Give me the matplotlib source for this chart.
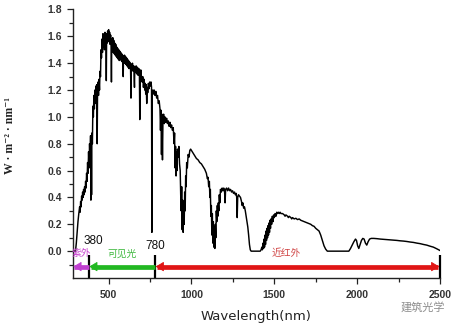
import matplotlib
matplotlib.use("Agg")
import matplotlib.pyplot as plt

# Solar spectral irradiance (W·m^-2·nm^-1) versus wavelength (nm)
wavelength_nm = [
    295, 300, 305, 310, 315, 320, 325, 328, 331, 334, 337, 340, 343, 346, 349, 352,
    355, 358, 361, 364, 367, 370, 373, 376, 379, 382, 385, 388, 391, 393, 395, 397,
    399, 402, 405, 408, 411, 414, 417, 420, 423, 426, 429, 431, 433, 436, 439, 442,
    445, 448, 451, 454, 457, 460, 463, 466, 469, 472, 475, 478, 481, 484, 486, 488,
    491, 494, 497, 500, 503, 506, 509, 512, 515, 517, 519, 522, 525, 528, 531, 534,
    537, 540, 543, 546, 549, 552, 555, 558, 561, 564, 567, 570, 573, 576, 579, 582,
    585, 588, 590, 593, 596, 599, 602, 605, 608, 611, 614, 617, 620, 623, 626, 629,
    632, 635, 637, 640, 644, 648, 652, 656, 658, 662, 666, 670, 674, 678, 682, 686,
    688, 690, 694, 698, 702, 706, 710, 714, 718, 721, 724, 727, 730, 733, 736, 740,
    744, 748, 752, 756, 759, 761, 763, 767, 771, 775, 780, 785, 790, 795, 800, 805,
    810, 813, 816, 819, 822, 825, 828, 832, 836, 840, 845, 850, 855, 860, 865, 870,
    875, 880, 885, 890, 895, 898, 901, 904, 907, 910, 913, 916, 920, 924, 928, 932,
    935, 938, 941, 944, 947, 950, 953, 956, 959, 962, 965, 968, 971, 975, 980, 985,
    990, 995, 1000, 1005, 1010, 1015, 1020, 1030, 1040, 1050, 1060, 1070, 1080, 1090, 1096, 1100,
    1104, 1108, 1111, 1114, 1117, 1120, 1123, 1126, 1129, 1132, 1135, 1138, 1141, 1144, 1147, 1150,
    1153, 1156, 1159, 1162, 1165, 1168, 1171, 1175, 1180, 1185, 1190, 1195, 1200, 1203, 1206, 1212,
    1218, 1224, 1230, 1236, 1242, 1248, 1254, 1260, 1265, 1270, 1273, 1276, 1279, 1284, 1290, 1296,
    1302, 1306, 1310, 1315, 1320, 1325, 1330, 1335, 1340, 1345, 1350, 1355, 1360, 1415, 1420, 1425,
    1428, 1432, 1435, 1438, 1441, 1444, 1447, 1450, 1453, 1456, 1459, 1462, 1465, 1468, 1471, 1474,
    1477, 1480, 1484, 1488, 1492, 1496, 1500, 1505, 1510, 1515, 1520, 1525, 1530, 1535, 1540, 1550,
    1560, 1565, 1570, 1580, 1585, 1590, 1600, 1605, 1610, 1620, 1630, 1640, 1650, 1660, 1670, 1680,
    1690, 1700, 1710, 1720, 1730, 1740, 1750, 1760, 1770, 1780, 1790, 1800, 1810, 1820, 1950, 1960,
    1970, 1980, 1990, 1996, 2003, 2010, 2018, 2026, 2034, 2042, 2050, 2058, 2066, 2075, 2085, 2100,
    2120, 2140, 2160, 2180, 2200, 2220, 2240, 2260, 2280, 2300, 2320, 2340, 2360, 2380, 2400, 2420,
    2440, 2460, 2480, 2495, 2500,
]
irradiance = [
    0.00, 0.00, 0.06, 0.14, 0.22, 0.28, 0.33, 0.29, 0.37, 0.33, 0.41, 0.38, 0.44, 0.40, 0.46, 0.42,
    0.48, 0.44, 0.52, 0.47, 0.58, 0.52, 0.66, 0.58, 0.74, 0.62, 0.80, 0.68, 0.86, 0.38, 0.82, 0.42,
    0.88, 0.80, 1.08, 1.00, 1.16, 1.06, 1.20, 1.10, 1.23, 1.12, 1.24, 0.80, 1.18, 1.26, 1.16, 1.28,
    1.20, 1.34, 1.30, 1.50, 1.44, 1.58, 1.48, 1.62, 1.52, 1.60, 1.50, 1.63, 1.54, 1.60, 1.27, 1.62,
    1.55, 1.64, 1.56, 1.65, 1.57, 1.63, 1.54, 1.61, 1.52, 1.26, 1.58, 1.50, 1.59, 1.48, 1.57, 1.47,
    1.55, 1.46, 1.54, 1.45, 1.52, 1.44, 1.51, 1.43, 1.50, 1.42, 1.49, 1.43, 1.48, 1.42, 1.47, 1.41,
    1.46, 1.30, 1.45, 1.40, 1.46, 1.40, 1.45, 1.39, 1.44, 1.38, 1.43, 1.37, 1.42, 1.36, 1.41, 1.36,
    1.40, 1.14, 1.39, 1.35, 1.40, 1.34, 1.38, 1.22, 1.37, 1.33, 1.38, 1.32, 1.37, 1.31, 1.36, 1.30,
    0.98, 1.28, 1.35, 1.30, 1.26, 1.30, 1.22, 1.28, 1.20, 1.25, 1.17, 1.24, 1.10, 1.22, 1.18, 1.25,
    1.21, 1.26, 1.23, 1.26, 1.22, 0.14, 1.18, 1.20, 1.17, 1.20, 1.16, 1.19, 1.14, 1.16, 1.10, 1.12,
    1.06, 0.90, 1.05, 0.72, 1.02, 0.68, 0.98, 1.02, 0.95, 1.00, 0.96, 0.99, 0.95, 0.97, 0.93, 0.96,
    0.92, 0.94, 0.90, 0.92, 0.80, 0.88, 0.62, 0.78, 0.56, 0.74, 0.60, 0.76, 0.70, 0.78, 0.65, 0.60,
    0.42, 0.30, 0.48, 0.16, 0.38, 0.14, 0.32, 0.20, 0.44, 0.30, 0.56, 0.48, 0.66, 0.62, 0.72, 0.70,
    0.75, 0.76, 0.75, 0.74, 0.73, 0.72, 0.71, 0.69, 0.68, 0.66, 0.65, 0.63, 0.61, 0.58, 0.54, 0.55,
    0.48, 0.52, 0.40, 0.46, 0.26, 0.34, 0.12, 0.28, 0.06, 0.22, 0.03, 0.18, 0.02, 0.20, 0.10, 0.30,
    0.22, 0.34, 0.26, 0.36, 0.30, 0.42, 0.36, 0.46, 0.44, 0.47, 0.45, 0.47, 0.44, 0.36, 0.46, 0.47,
    0.45, 0.47, 0.45, 0.46, 0.44, 0.45, 0.43, 0.44, 0.42, 0.43, 0.40, 0.25, 0.40, 0.42, 0.41, 0.40,
    0.37, 0.34, 0.36, 0.32, 0.33, 0.30, 0.26, 0.22, 0.18, 0.12, 0.05, 0.01, 0.00, 0.00, 0.01, 0.03,
    0.01, 0.06, 0.02, 0.09, 0.03, 0.12, 0.05, 0.15, 0.08, 0.17, 0.10, 0.19, 0.12, 0.21, 0.14, 0.23,
    0.17, 0.24, 0.20, 0.26, 0.22, 0.27, 0.25, 0.28, 0.26, 0.29, 0.28, 0.29, 0.28, 0.29, 0.28, 0.28,
    0.27, 0.26, 0.27, 0.26, 0.25, 0.26, 0.25, 0.24, 0.25, 0.24, 0.245, 0.235, 0.24, 0.23, 0.225, 0.22,
    0.215, 0.21, 0.205, 0.20, 0.19, 0.185, 0.17, 0.16, 0.15, 0.12, 0.08, 0.04, 0.015, 0.00, 0.00, 0.02,
    0.045, 0.07, 0.09, 0.08, 0.04, 0.02, 0.05, 0.08, 0.095, 0.09, 0.06, 0.045, 0.07, 0.09, 0.095, 0.095,
    0.093, 0.09, 0.088, 0.086, 0.084, 0.082, 0.08, 0.077, 0.075, 0.072, 0.068, 0.065, 0.06, 0.056, 0.05, 0.045,
    0.037, 0.03, 0.018, 0.008, 0.005,
]

# Spectral band boundaries (nm) and band names
band_edges = [380, 780, 2500]
band_names = ["紫外", "可见光", "近红外"]
band_text_colors = ["#c83fcf", "#3cb83c", "#d04545"]
band_arrow_colors = ["#c040d0", "#22b822", "#e01515"]

x_ticks = [500, 1000, 1500, 2000, 2500]
y_ticks = [0.0, 0.2, 0.4, 0.6, 0.8, 1.0, 1.2, 1.4, 1.6, 1.8]

cjk = ["Noto Sans CJK SC", "DejaVu Sans"]

fig = plt.figure(figsize=(4.6, 3.28), dpi=100)
ax = fig.add_axes([0.1587, 0.1524, 0.7978, 0.8187])

ax.plot(wavelength_nm, irradiance, color="black", lw=1.05)

ax.set_xlim(285, 2500)
ax.set_ylim(-0.2, 1.8)

for side in ("top", "right"):
    ax.spines[side].set_visible(False)
for side in ("left", "bottom"):
    ax.spines[side].set_linewidth(1.0)
    ax.spines[side].set_color("#222222")

ax.set_xticks(x_ticks)
ax.set_xticks([750, 1250, 1750, 2250], minor=True)
ax.set_yticks(y_ticks)
ax.set_yticks([0.1, 0.3, 0.5, 0.7, 0.9, 1.1, 1.3, 1.5, 1.7, -0.1], minor=True)
ax.set_yticklabels([f"{v:.1f}" for v in y_ticks])
ax.tick_params(axis="both", which="both", direction="out", color="#222222", width=0.9)
ax.tick_params(axis="both", which="major", length=4.5,
               labelsize=7.5, labelcolor="#333333")
ax.tick_params(axis="both", which="minor", length=3)
ax.tick_params(axis="x", which="major", pad=4)
for lab in ax.get_xticklabels() + ax.get_yticklabels():
    lab.set_fontfamily("Liberation Sans")
    lab.set_fontweight("bold")

ax.set_xlabel("Wavelength(nm)", fontsize=9.5, color="#222222", labelpad=7,
              family="DejaVu Sans")
ax.set_ylabel("W · m⁻² · nm⁻¹", fontsize=8.5, color="#222222",
              family=["Liberation Serif", "DejaVu Serif"], fontweight="bold")
ax.yaxis.set_label_coords(-0.155, 0.53)

# Band boundary markers below the curve
ax.vlines(band_edges, -0.2, -0.03, color="black", lw=1.6, clip_on=False)

arrow_y = -0.115
head_style = "-|>,head_length=0.5,head_width=0.3"


def band_arrow(x_start, x_end, color, heads):
    """Thick bar between x_start and x_end with small triangular heads."""
    ax.plot([x_start, x_end], [arrow_y, arrow_y], color=color, lw=3.4,
            solid_capstyle="butt")
    for tip, back in heads:
        ax.annotate("", xy=(tip, arrow_y), xytext=(back, arrow_y),
                    arrowprops=dict(arrowstyle=head_style, color=color, lw=0.6,
                                    shrinkA=0, shrinkB=0, mutation_scale=10))


band_arrow(292, band_edges[0], band_arrow_colors[0], [(287, 330)])
band_arrow(band_edges[0] + 12, band_edges[1], band_arrow_colors[1],
           [(band_edges[0] + 3, 430)])
band_arrow(band_edges[1] + 12, band_edges[2] - 12, band_arrow_colors[2],
           [(band_edges[1] + 4, 840), (band_edges[2] - 4, 2440)])

# Boundary wavelength labels
ax.text(band_edges[0] + 30, 0.075, f"{band_edges[0]}", ha="center", va="center",
        fontsize=8.5, family="Liberation Sans", color="#111111")
ax.text(band_edges[1], 0.035, f"{band_edges[1]}", ha="center", va="center",
        fontsize=8.5, family="Liberation Sans", color="#111111")

# Band names
band_label_x = [335, 578, 1570]
for x, name, c in zip(band_label_x, band_names, band_text_colors):
    ax.text(x, -0.017, name, ha="center", va="center", fontsize=7,
            family=cjk, color=c)

fig.text(0.92, 0.064, "建筑光学", ha="center", va="center", fontsize=8,
         family=cjk, color="#8c8c8c")

fig.savefig("out.png", dpi=100)
